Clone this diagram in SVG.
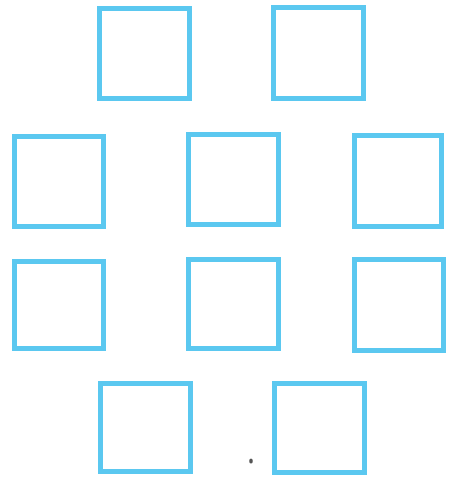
<svg xmlns="http://www.w3.org/2000/svg" width="451" height="477" viewBox="0 0 451 477">
<style>
.box{fill:none;stroke:#5bc8f0;stroke-width:5}
</style>
<rect width="451" height="477" fill="#ffffff"/>
<g id="n1"><rect class="box" x="99.5" y="8.5" width="90" height="90"/></g>
<g id="n2"><rect class="box" x="273.5" y="7.5" width="90" height="91"/></g>
<g id="n3"><rect class="box" x="14.5" y="136.5" width="89" height="90"/></g>
<g id="n4"><rect class="box" x="188.5" y="134.5" width="90" height="90"/></g>
<g id="n5"><rect class="box" x="354.5" y="135.5" width="87" height="91"/></g>
<g id="n6"><rect class="box" x="14.5" y="261.5" width="89" height="87"/></g>
<g id="n7"><rect class="box" x="188.5" y="259.5" width="90" height="89"/></g>
<g id="n8"><rect class="box" x="354.5" y="259.5" width="89" height="91"/></g>
<g id="n9"><rect class="box" x="100.5" y="383.5" width="90" height="88"/></g>
<g id="n10"><rect class="box" x="274.5" y="383.5" width="90" height="89"/></g>
<g id="connectors"></g>
<ellipse cx="251" cy="461" rx="1.8" ry="2.5" fill="#555"/>
</svg>
